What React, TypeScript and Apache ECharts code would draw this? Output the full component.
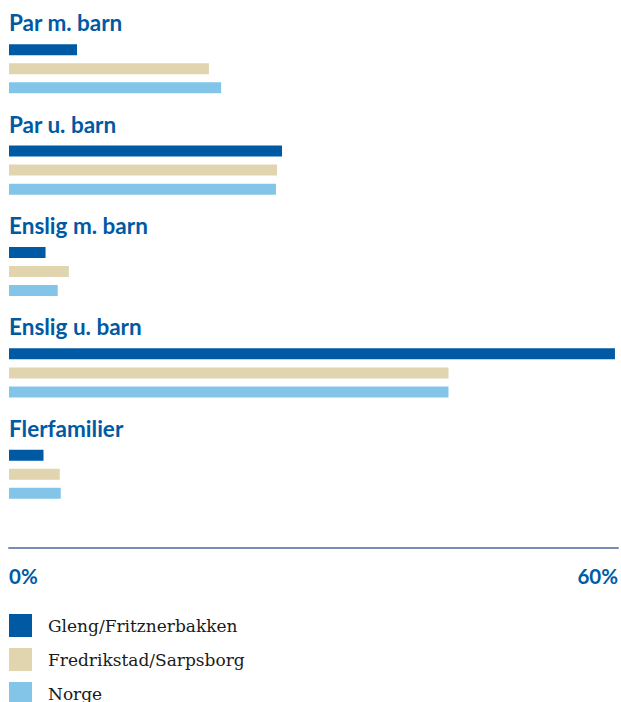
import React, { useEffect, useRef } from "react";
import * as echarts from "echarts";

const categories = ["Par m. barn", "Par u. barn", "Enslig m. barn", "Enslig u. barn", "Flerfamilier"];
const seriesNames = ["Gleng/Fritznerbakken", "Fredrikstad/Sarpsborg", "Norge"];
const gleng = [6.7, 26.9, 3.6, 59.7, 3.4];
const fredrikstad = [19.7, 26.4, 5.9, 43.3, 5.0];
const norge = [20.9, 26.3, 4.8, 43.3, 5.1];
const colors = ["#005aa3", "#e0d5af", "#82c5e8"];
const xMin = 0;
const xMax = 60;

export default function App() {
  const ref = useRef<HTMLDivElement>(null);
  useEffect(() => {
    if (!ref.current) return;
    const chart = echarts.init(ref.current, null, { renderer: "svg" });
    const values = [gleng, fredrikstad, norge];
    chart.setOption({
      animation: false,
      backgroundColor: "#ffffff",
      color: colors,
      grid: { left: 9, right: 1, top: 18, height: 507, containLabel: false },
      xAxis: {
        type: "value",
        min: xMin,
        max: xMax,
        interval: 60,
        offset: 23,
        axisLine: { show: true, lineStyle: { color: "#7b8db6", width: 2 } },
        axisTick: { show: false },
        splitLine: { show: false },
        axisLabel: {
          formatter: "{value}%",
          color: "#005aa3",
          fontFamily: "Lato",
          fontWeight: "bold",
          fontSize: 20.5,
          margin: 17,
          alignMinLabel: "left",
          alignMaxLabel: "right",
        },
      },
      yAxis: {
        type: "category",
        data: categories,
        inverse: true,
        axisLine: { show: false },
        axisTick: { show: false },
        splitLine: { show: false },
        axisLabel: {
          inside: true,
          interval: 0,
          margin: 0,
          align: "left",
          verticalAlign: "middle",
          formatter: (v: string) => `{t|${v}}\n{s| }`,
          rich: {
            t: {
              color: "#005aa3",
              fontFamily: "Lato",
              fontWeight: "bold",
              fontSize: 22.5,
              lineHeight: 24,
              align: "left",
            },
            s: { fontSize: 10, lineHeight: 92, height: 92, align: "left" },
          },
        },
      },
      legend: {
        orient: "vertical",
        left: 9,
        top: 614,
        height: 120,
        padding: 0,
        itemWidth: 23,
        itemHeight: 23,
        itemGap: 11,
        icon: "rect",
        data: seriesNames,
        textStyle: { fontFamily: "DejaVu Serif", fontSize: 17, color: "#1a1a1a", padding: [0, 0, 0, 11] },
      },
      series: seriesNames.map((name, i) => ({
        name,
        type: "bar",
        data: values[i],
        barWidth: 11,
        barGap: "73%",
        itemStyle: { color: colors[i] },
      })),
    });
    return () => chart.dispose();
  }, []);
  return (
    <div
      ref={ref}
      style={{ position: "fixed", left: 0, top: 0, width: 621, height: 702, background: "#fff" }}
    />
  );
}
